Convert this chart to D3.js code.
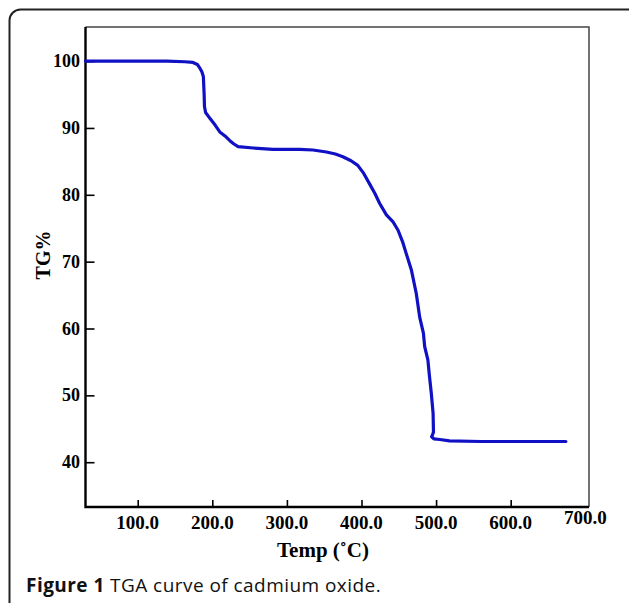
<!DOCTYPE html>
<html>
<head>
<meta charset="utf-8">
<script src="https://cdn.jsdelivr.net/npm/d3@7"></script>
<style>
  body { margin: 0; background: #fff; }
  svg { display: block; }
</style>
</head>
<body>
<script>
// TGA curve of cadmium oxide - temperature vs weight %

// data
var temps = [30, 60, 100, 139, 163, 174, 180, 183, 186, 188, 189, 189.5, 191, 197, 204, 210, 217, 223.5, 229, 234.6,
  254.7, 281.5, 317, 335, 353, 365, 375, 386, 395, 403, 411, 418, 424.4, 433.4, 442, 449, 455, 460, 467,
  473.5, 478, 483, 484.7, 489, 491, 493.6, 496, 496.5, 495.5, 494, 497, 505, 518, 560, 620, 674];
var tg = [100.0, 100.0, 100.0, 100.0, 99.9, 99.8, 99.5, 99.0, 98.4, 97.7, 95.2, 93.2, 92.3, 91.4, 90.4, 89.4, 88.8, 88.1, 87.6, 87.2,
  87.0, 86.8, 86.8, 86.7, 86.4, 86.1, 85.7, 85.1, 84.4, 83.2, 81.6, 80.2, 78.7, 77.0, 76.0, 74.7, 73.0, 71.2, 68.7,
  65.2, 61.7, 59.3, 57.3, 55.3, 53.0, 50.3, 47.3, 44.5, 44.2, 43.8, 43.5, 43.4, 43.2, 43.1, 43.1, 43.1];

var x_ticks = [100, 200, 300, 400, 500, 600, 700];
var y_ticks = [40, 50, 60, 70, 80, 90, 100];

var x_label = "Temp (˚C)";
var y_label = "TG%";
var caption_bold = "Figure 1";
var caption_rest = " TGA curve of cadmium oxide.";

// sizes
var w_svg = 629;
var h_svg = 603;

var left = 85.5, right = 589, top_ = 27, bottom = 507;

var svg = d3.select("body").append("svg")
  .attr("width", w_svg)
  .attr("height", h_svg);

// outer rounded box (runs past bottom edge)
svg.append("rect")
  .attr("x", 9.5).attr("y", 9.5)
  .attr("width", 640).attr("height", 640)
  .attr("rx", 11).attr("ry", 11)
  .attr("fill", "none")
  .attr("stroke", "#222")
  .attr("stroke-width", 2);

// scales
var xScale = d3.scaleLinear().domain([30, 705]).range([left, right]);
var yScale = d3.scaleLinear().domain([33.3, 105.1]).range([bottom, top_]);

// top and right thin frame lines
svg.append("path")
  .attr("d", "M" + left + "," + top_ + "H" + right + "V" + bottom)
  .attr("fill", "none")
  .attr("stroke", "#444")
  .attr("stroke-width", 1.5);

// x axis, ticks pointing into the plot
var x_axis = d3.axisTop(xScale).tickValues(x_ticks.slice(0, 6)).tickSize(7).tickFormat("");
svg.append("g")
  .attr("transform", "translate(0," + bottom + ")")
  .call(x_axis)
  .call(function(g) {
    g.select(".domain").remove();
    g.selectAll("line").attr("stroke", "#000").attr("stroke-width", 1.6);
  });

// y axis, ticks pointing into the plot
var y_axis = d3.axisRight(yScale).tickValues(y_ticks).tickSize(9).tickFormat("");
svg.append("g")
  .attr("transform", "translate(" + left + ",0)")
  .call(y_axis)
  .call(function(g) {
    g.select(".domain").remove();
    g.selectAll("line").attr("stroke", "#000").attr("stroke-width", 1.6);
  });

// main axis lines (thick)
svg.append("path")
  .attr("d", "M" + left + "," + top_ + "V" + bottom + "H" + right)
  .attr("fill", "none")
  .attr("stroke", "#000")
  .attr("stroke-width", 2.4);

// tick labels
svg.selectAll(".xlab")
  .data(x_ticks)
  .enter().append("text")
  .attr("class", "xlab")
  .attr("x", function(d) { return xScale(d); })
  .attr("y", function(d) { return d == 700 ? 524 : 529; })
  .attr("text-anchor", "middle")
  .style("font-family", "'Liberation Serif', 'Times New Roman', serif")
  .style("font-weight", "bold")
  .style("font-size", "19px")
  .text(function(d) { return d.toFixed(1); });

svg.selectAll(".ylab")
  .data(y_ticks)
  .enter().append("text")
  .attr("class", "ylab")
  .attr("x", 80)
  .attr("y", function(d) { return yScale(d) + 6; })
  .attr("text-anchor", "end")
  .style("font-family", "'Liberation Serif', 'Times New Roman', serif")
  .style("font-weight", "bold")
  .style("font-size", "18px")
  .text(function(d) { return d; });

// axis titles
svg.append("text")
  .attr("x", 323)
  .attr("y", 557)
  .attr("text-anchor", "middle")
  .style("font-family", "'Liberation Serif', 'Times New Roman', serif")
  .style("font-weight", "bold")
  .style("font-size", "21px")
  .text(x_label);

svg.append("text")
  .attr("transform", "translate(50,255) rotate(-90)")
  .attr("text-anchor", "middle")
  .style("font-family", "'Liberation Serif', 'Times New Roman', serif")
  .style("font-weight", "bold")
  .style("font-size", "20px")
  .text(y_label);

// the curve
var dataset = temps.map(function(t, i) { return [t, tg[i]]; });
var line = d3.line()
  .x(function(d) { return xScale(d[0]); })
  .y(function(d) { return yScale(d[1]); });

svg.append("path")
  .datum(dataset)
  .attr("d", line)
  .attr("fill", "none")
  .attr("stroke", "#1010c4")
  .attr("stroke-width", 3.2)
  .attr("stroke-linejoin", "round")
  .attr("stroke-linecap", "round");

// caption
var cap = svg.append("text")
  .attr("x", 26)
  .attr("y", 592)
  .style("font-family", "'Open Sans', 'Noto Sans', sans-serif")
  .style("font-size", "19px")
  .style("letter-spacing", "0.45px")
  .attr("fill", "#111");
cap.append("tspan").style("font-weight", "bold").text(caption_bold);
cap.append("tspan").text(caption_rest);
</script>
</body>
</html>
